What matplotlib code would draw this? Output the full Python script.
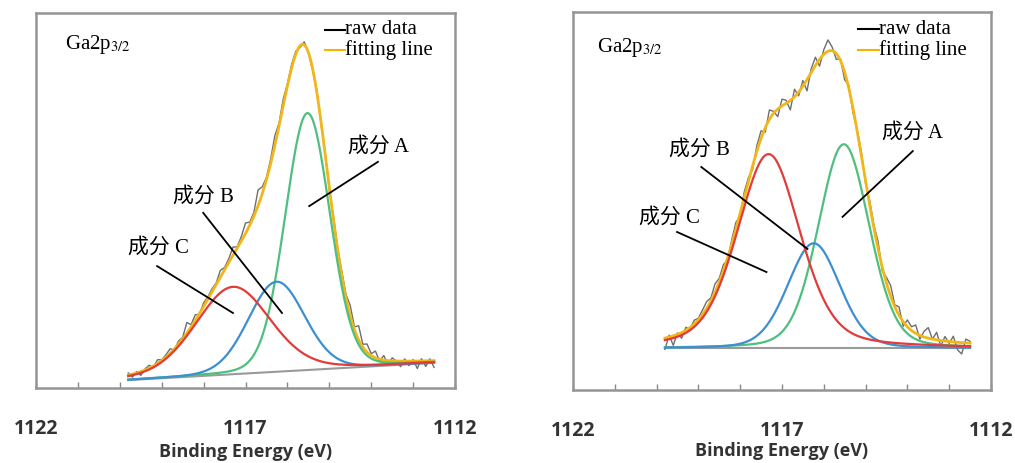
import numpy as np
import matplotlib.pyplot as plt

plt.rcParams['font.family'] = ['Liberation Serif', 'Noto Sans CJK SC']
plt.rcParams['mathtext.fontset'] = 'stix'

# Binding energy axis (eV), reversed as usual for XPS
x_ticks = [1122, 1121, 1120, 1119, 1118, 1117, 1116, 1115, 1114, 1113, 1112]
x_tick_labels = ['1122', '', '', '', '', '1117', '', '', '', '', '1112']

# Fitted components: centre (eV), FWHM (eV), height, Lorentz fraction
left_A = [1115.52, 1.26, 0.685, 0.10]
left_B = [1116.26, 1.58, 0.240, 0.10]
left_C = [1117.30, 2.10, 0.233, 0.20]
right_A = [1115.52, 1.44, 0.540, 0.20]
right_B = [1116.24, 1.47, 0.278, 0.20]
right_C = [1117.32, 1.78, 0.514, 0.35]

# Background line: value at the high-BE end and at the low-BE end
left_base = [0.021, 0.067]
right_base = [0.110, 0.110]

# Raw spectrum: deviation from the fitting line, 1119.8 -> 1112.5 eV in 0.1 eV steps
left_noise = [0.006, -0.008, 0.004, -0.010, 0.003, 0.008, -0.004, 0.010, 0.002, 0.006,
              0.012, -0.003, 0.008, 0.004, 0.028, 0.006, 0.015, -0.002, 0.010, 0.006,
              0.008, 0.004, 0.018, 0.006, 0.010, 0.022, 0.004, 0.012, 0.028, 0.008,
              0.010, 0.042, 0.018, 0.006, 0.012, 0.026, 0.008, 0.018, 0.006, 0.010,
              0.008, -0.005, 0.008, 0.000, -0.004, 0.006, -0.006, 0.004, -0.008, 0.010,
              0.005, 0.012, 0.010, 0.028, 0.008, 0.038, 0.008, 0.022, 0.005, 0.018,
              -0.005, 0.012, -0.010, 0.008, 0.000, -0.015, 0.006, -0.012, 0.004, -0.020,
              0.006, -0.015, 0.005, -0.018]
right_noise = [-0.030, 0.005, -0.025, 0.004, -0.015, 0.008, -0.005, 0.010, 0.004, 0.012,
               0.018, 0.008, 0.022, 0.010, 0.016, -0.006, 0.012, 0.018, -0.008, 0.015,
               0.010, -0.010, 0.015, 0.020, -0.012, 0.025, 0.005, -0.020, 0.018, 0.008,
               -0.025, 0.020, -0.010, 0.015, -0.030, 0.010, 0.022, -0.018, 0.012, 0.030,
               0.010, -0.015, 0.005, -0.020, 0.008, -0.012, 0.004, 0.010, -0.006, 0.012,
               0.008, 0.020, -0.010, 0.015, 0.028, 0.005, 0.022, -0.012, 0.018, 0.010,
               0.022, -0.010, 0.015, 0.028, 0.000, 0.020, -0.015, 0.012, -0.005, 0.015,
               -0.020, -0.030, 0.010, 0.005]

# Annotation label positions (eV, intensity) and leader lines
left_labels = {'成分 A': (1114.55, 0.643), '成分 B': (1118.73, 0.509), '成分 C': (1119.80, 0.373)}
left_leaders = {'成分 A': [(1113.84, 0.603), (1115.48, 0.485)],
                '成分 B': [(1118.01, 0.467), (1116.13, 0.200)],
                '成分 C': [(1119.11, 0.325), (1117.30, 0.200)]}
right_labels = {'成分 A': (1114.61, 0.680), '成分 B': (1119.70, 0.635), '成分 C': (1120.42, 0.455)}
right_leaders = {'成分 A': [(1113.87, 0.632), (1115.55, 0.458)],
                 '成分 B': [(1118.93, 0.590), (1116.39, 0.373)],
                 '成分 C': [(1119.51, 0.418), (1117.37, 0.312)]}

e_start, e_stop = 1119.8, 1112.5


def peak(x, p):
    c, w, h, eta = p
    g = np.exp(-4 * np.log(2) * (x - c) ** 2 / w ** 2)
    l = 1 / (1 + 4 * (x - c) ** 2 / w ** 2)
    return h * ((1 - eta) * g + eta * l)


def draw_panel(ax, comps, base, noise, labels, leaders, title_xy, legend_x, xlabel_pad):
    x = np.linspace(e_start, e_stop, 500)
    bg = np.interp(x, [e_stop, e_start], base[::-1])
    fit = bg + sum(peak(x, p) for p in comps)

    xr = np.round(np.arange(e_start, e_stop - 0.05, -0.1), 2)
    bgr = np.interp(xr, [e_stop, e_start], base[::-1])
    raw = bgr + sum(peak(xr, p) for p in comps) + np.array(noise)

    ax.plot([e_start, e_stop], base, color='#9a9a9a', lw=1.5)
    ax.plot(xr, raw, color='#6e6e6e', lw=1.0)
    ax.plot(x, fit, color='#f2b619', lw=2.0)
    colors = ['#4fbf7f', '#3d8fd1', '#e23b3b']
    for p, col in zip(comps, colors):
        ax.plot(x, bg + peak(x, p), color=col, lw=1.6)

    for name, (tx, ty) in labels.items():
        ax.text(tx, ty, name, fontsize=15, ha='left', va='center')
        (x0, y0), (x1, y1) = leaders[name]
        ax.plot([x0, x1], [y0, y1], color='black', lw=1.3)

    ax.text(title_xy[0], title_xy[1], 'Ga2p$_{3/2}$', fontsize=15, ha='left', va='center')

    # hand-made legend
    ax.plot([legend_x[0], legend_x[1]], [0.955, 0.955], color='black', lw=1.5)
    ax.plot([legend_x[0], legend_x[1]], [0.900, 0.900], color='#f5b400', lw=1.5)
    ax.text(legend_x[1], 0.955, 'raw data', fontsize=15, ha='left', va='center')
    ax.text(legend_x[1], 0.900, 'fitting line', fontsize=15, ha='left', va='center')

    ax.set_xlim(1122, 1112)
    ax.set_ylim(0, 1)
    ax.set_yticks([])
    ax.set_xticks(x_ticks)
    ax.set_xticklabels(x_tick_labels, family='Open Sans', fontweight='bold',
                       fontsize=14, color='#333333')
    ax.tick_params(axis='x', direction='in', length=4, width=1, color='#888888', pad=22)
    ax.set_xlabel('Binding Energy (eV)', family='Open Sans', fontweight='bold',
                  fontsize=13, color='#333333', labelpad=xlabel_pad)
    for s in ax.spines.values():
        s.set_color('#959595')
        s.set_linewidth(1.8)


fig = plt.figure(figsize=(10.15, 4.63), dpi=100)
ax1 = fig.add_axes([0.0355, 0.162, 0.4128, 0.810])
ax2 = fig.add_axes([0.5645, 0.1577, 0.4118, 0.8164])

draw_panel(ax1, [left_A, left_B, left_C], left_base, left_noise,
           left_labels, left_leaders, (1121.31, 0.917), (1115.10, 1114.63), 3)
draw_panel(ax2, [right_A, right_B, right_C], right_base, right_noise,
           right_labels, right_leaders, (1121.42, 0.905), (1115.19, 1114.69), 1)

fig.savefig('out.png', dpi=100)
